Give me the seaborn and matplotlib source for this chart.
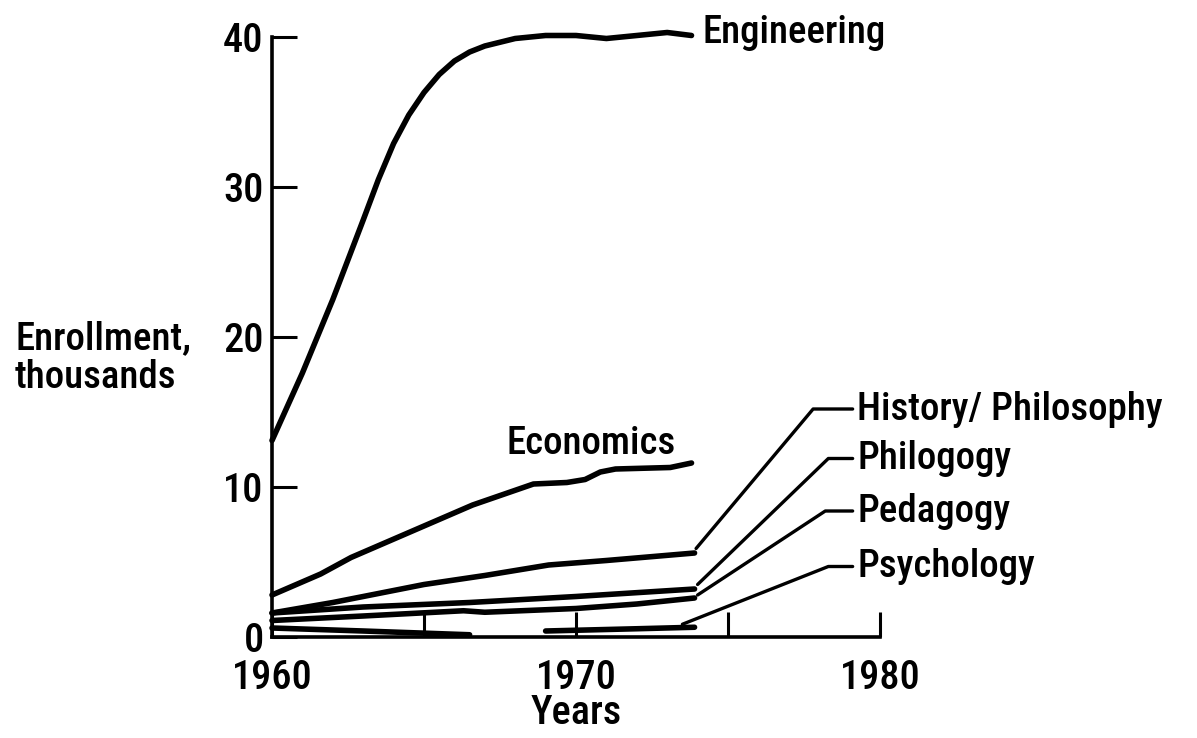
import numpy as np
import pandas as pd
import matplotlib
matplotlib.use("Agg")
import matplotlib.pyplot as plt
from matplotlib import font_manager as fm
import seaborn as sns

# Enrollment (thousands) by field
eng_years = [1960, 1961, 1962, 1963, 1963.5, 1964, 1964.5, 1965, 1965.5, 1966, 1966.5, 1967, 1968, 1969, 1970, 1971, 1972, 1973, 1973.8]
eng_vals = [13.1, 17.6, 22.5, 27.8, 30.5, 32.9, 34.8, 36.3, 37.5, 38.4, 39.0, 39.4, 39.9, 40.1, 40.1, 39.9, 40.1, 40.3, 40.1]

econ_years = [1960, 1961.6, 1962.6, 1965, 1966.6, 1968.6, 1969.7, 1970.3, 1970.8, 1971.3, 1973.1, 1973.8]
econ_vals = [2.8, 4.2, 5.3, 7.4, 8.8, 10.2, 10.3, 10.5, 11.0, 11.2, 11.3, 11.6]

hp_years = [1960, 1962, 1965, 1967, 1969.1, 1971, 1973.9]
hp_vals = [1.6, 2.3, 3.5, 4.1, 4.8, 5.1, 5.6]

phil_years = [1960, 1963, 1966.5, 1970, 1973.9]
phil_vals = [1.6, 2.0, 2.3, 2.7, 3.2]

ped_years = [1960, 1963, 1966.3, 1967.0, 1970, 1972, 1973.9]
ped_vals = [1.1, 1.4, 1.75, 1.65, 1.9, 2.2, 2.6]

# psychology: faint early trace, then the drawn segment from 1969
psych_early_years = [1960, 1963, 1966.5]
psych_early_vals = [0.6, 0.4, 0.15]
psych_years = [1969, 1970, 1972, 1973.9]
psych_vals = [0.4, 0.45, 0.55, 0.65]

# right-hand labels with leader lines
side_labels = ["History/ Philosophy", "Philogogy", "Pedagogy", "Psychology"]
leader_start = [(1973.95, 5.9), (1974.0, 3.5), (1974.0, 2.8), (1973.5, 0.85)]
leader_elbow = [(1977.8, 15.2), (1978.3, 11.9), (1978.2, 8.4), (1978.3, 4.7)]

# long table, one "piece" per drawn stroke
pieces = [
    ("Engineering", eng_years, eng_vals),
    ("Economics", econ_years, econ_vals),
    ("History/Philosophy", hp_years, hp_vals),
    ("Philology", phil_years, phil_vals),
    ("Pedagogy", ped_years, ped_vals),
    ("Psychology early", psych_early_years, psych_early_vals),
    ("Psychology", psych_years, psych_vals),
]
df = pd.concat(
    [pd.DataFrame({"year": x, "enrollment": y, "piece": name}) for name, x, y in pieces],
    ignore_index=True,
)

sns.set_style("white")

# pick a narrow sans if one is installed, the original lettering is condensed
fonts = fm.fontManager.ttflist
names = {f.name for f in fonts}
family, stretch = "Roboto", "normal"
for cand in ["Liberation Sans Narrow", "DejaVu Sans Condensed", "Roboto Condensed",
             "Open Sans Condensed", "Noto Sans Condensed"]:
    if cand in names:
        family = cand
        break
else:
    narrow = [f for f in fonts if f.name in ("DejaVu Sans", "Noto Sans", "Open Sans", "Roboto")
              and f.stretch in ("condensed", "semi-condensed", "extra-condensed")]
    if narrow:
        family, stretch = narrow[0].name, narrow[0].stretch
    elif "Roboto" not in names:
        family = "DejaVu Sans"

plt.rcParams["font.family"] = [family, "DejaVu Sans"]
plt.rcParams["font.stretch"] = stretch
plt.rcParams["font.weight"] = "medium"
plt.rcParams["text.color"] = "black"
plt.rcParams["axes.labelcolor"] = "black"
plt.rcParams["axes.labelweight"] = "medium"
plt.rcParams["xtick.color"] = "black"
plt.rcParams["ytick.color"] = "black"

fig = plt.figure(figsize=(11.97, 7.38), dpi=100)
ax = fig.add_axes([272 / 1197, 101 / 738, 608 / 1197, 615 / 738])

sns.lineplot(data=df, x="year", y="enrollment", units="piece", estimator=None,
             color="black", linewidth=4.0, ax=ax, legend=False)
for ln in ax.lines:
    ln.set_clip_on(False)
    ln.set_solid_capstyle("round")
    ln.set_solid_joinstyle("round")

# leader lines to the labels
for text, (x0, y0), (x1, y1) in zip(side_labels, leader_start, leader_elbow):
    ax.plot([x0, x1, 1979.1], [y0, y1, y1], color="black", lw=2.4, clip_on=False)
    ax.text(1979.25, y1, text, fontsize=28, va="center", ha="left")

ax.text(1974.15, 40.3, "Engineering", fontsize=28, va="center", ha="left")
ax.text(1970.5, 12.9, "Economics", fontsize=28, va="center", ha="center")

ax.set_xlim(1960, 1980)
ax.set_ylim(0, 41)
sns.despine(ax=ax)
ax.spines["left"].set_bounds(0, 40)
for side in ["left", "bottom"]:
    ax.spines[side].set_linewidth(2.6)
    ax.spines[side].set_color("black")

ax.set_xticks([1960, 1965, 1970, 1975, 1980])
ax.set_xticklabels(["1960", "", "1970", "", "1980"])
ax.set_yticks([0, 10, 20, 30, 40])
ax.set_yticklabels(["0", "10", "20", "30", "40"])
ax.tick_params(axis="both", direction="in", length=18, width=2.2, color="black",
               labelsize=29, bottom=True, left=True)
ax.tick_params(axis="x", pad=16)
ax.tick_params(axis="y", pad=6)

ax.set_xlabel("Years", fontsize=29, labelpad=-2)
ax.set_ylabel("")
fig.text(15 / 1197, 1 - 358 / 738, "Enrollment,\nthousands", fontsize=28,
         ha="left", va="center", multialignment="left", linespacing=1.05)

fig.savefig("out.png", dpi=100, facecolor="white")
